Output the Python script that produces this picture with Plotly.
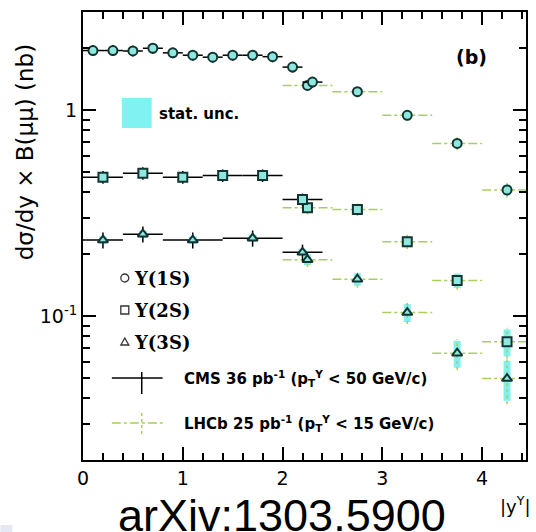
import math
import plotly.graph_objects as go

# ---------------- data ----------------
cms_1s_x = [0.1, 0.3, 0.5, 0.7, 0.9, 1.1, 1.3, 1.5, 1.7, 1.9, 2.1, 2.3]
cms_1s_hw = [0.1] * 12
cms_1s_y = [1.95, 1.95, 1.94, 2.00, 1.90, 1.85, 1.81, 1.85, 1.85, 1.82, 1.62, 1.37]
cms_1s_stat = [0.02] * 12
cms_1s_tot = [0.06] * 12

cms_2s_x = [0.2, 0.6, 1.0, 1.4, 1.8, 2.2]
cms_2s_hw = [0.2, 0.2, 0.2, 0.2, 0.2, 0.2]
cms_2s_y = [0.473, 0.494, 0.473, 0.482, 0.482, 0.368]
cms_2s_stat = [0.03] * 6
cms_2s_tot = [0.07] * 6

cms_3s_x = [0.2, 0.6, 1.1, 1.7, 2.2]
cms_3s_hw = [0.2, 0.2, 0.3, 0.3, 0.2]
cms_3s_y = [0.234, 0.250, 0.234, 0.239, 0.204]
cms_3s_stat = [0.04] * 5
cms_3s_tot = [0.09] * 5

lhcb_x = [2.25, 2.75, 3.25, 3.75, 4.25]
lhcb_hw = [0.25] * 5
lhcb_1s_y = [1.32, 1.23, 0.945, 0.69, 0.41]
lhcb_2s_y = [0.336, 0.329, 0.230, 0.149, 0.075]
lhcb_3s_y = [0.188, 0.151, 0.104, 0.066, 0.0497]
lhcb_1s_stat = [0.02, 0.02, 0.03, 0.04, 0.06]
lhcb_2s_stat = [0.04, 0.05, 0.06, 0.08, 0.15]
lhcb_3s_stat = [0.06, 0.07, 0.10, 0.15, 0.22]
lhcb_1s_tot = [0.06, 0.06, 0.06, 0.07, 0.08]
lhcb_2s_tot = [0.07, 0.07, 0.08, 0.10, 0.17]
lhcb_3s_tot = [0.08, 0.09, 0.12, 0.17, 0.25]

legend_labels = ["Υ(1S)", "Υ(2S)", "Υ(3S)"]
cms_label = "CMS 36 pb<sup>-1</sup> (p<sub>T</sub><sup>Υ</sup> < 50 GeV/c)"
lhcb_label = "LHCb 25 pb<sup>-1</sup> (p<sub>T</sub><sup>Υ</sup> < 15 GeV/c)"

# ---------------- style ----------------
CYAN = "rgba(90,235,235,0.75)"
OUTLINE = "#133532"
FILL = "#8fe8e0"
GREEN = "#a9cf5a"

fig = go.Figure()


def absv(vals, rel):
    return [v * r for v, r in zip(vals, rel)]


def add_cms(x, hw, y, stat, tot, symbol):
    fig.add_trace(go.Scatter(
        x=x, y=y, mode="markers", marker=dict(size=1, opacity=0),
        error_y=dict(type="data", array=absv(y, stat), width=0, thickness=8, color=CYAN),
        showlegend=False, hoverinfo="skip"))
    fig.add_trace(go.Scatter(
        x=x, y=y, mode="markers",
        marker=dict(symbol=symbol, size=9, color=FILL, line=dict(color=OUTLINE, width=2)),
        error_y=dict(type="data", array=absv(y, tot), width=0, thickness=1.5, color="black"),
        error_x=dict(type="data", array=hw, width=0, thickness=1.5, color="black"),
        showlegend=False))


def add_lhcb(x, hw, y, stat, tot, symbol):
    hx, hy, vx, vy = [], [], [], []
    for c, h, v, t in zip(x, hw, y, tot):
        hx += [c - h, c + h, None]
        hy += [v, v, None]
        vx += [c, c, None]
        vy += [v * (1 - t), v * (1 + t), None]
    fig.add_trace(go.Scatter(
        x=x, y=y, mode="markers", marker=dict(size=1, opacity=0),
        error_y=dict(type="data", array=absv(y, stat), width=0, thickness=7, color=CYAN),
        showlegend=False, hoverinfo="skip"))
    fig.add_trace(go.Scatter(x=hx, y=hy, mode="lines",
                             line=dict(color=GREEN, width=1.5, dash="dashdot"),
                             showlegend=False, hoverinfo="skip"))
    fig.add_trace(go.Scatter(x=vx, y=vy, mode="lines",
                             line=dict(color=GREEN, width=1.5, dash="dot"),
                             showlegend=False, hoverinfo="skip"))
    fig.add_trace(go.Scatter(
        x=x, y=y, mode="markers",
        marker=dict(symbol=symbol, size=9, color=FILL, line=dict(color=OUTLINE, width=2)),
        showlegend=False))


add_lhcb(lhcb_x, lhcb_hw, lhcb_1s_y, lhcb_1s_stat, lhcb_1s_tot, "circle")
add_lhcb(lhcb_x, lhcb_hw, lhcb_2s_y, lhcb_2s_stat, lhcb_2s_tot, "square")
add_lhcb(lhcb_x, lhcb_hw, lhcb_3s_y, lhcb_3s_stat, lhcb_3s_tot, "triangle-up")
add_cms(cms_1s_x, cms_1s_hw, cms_1s_y, cms_1s_stat, cms_1s_tot, "circle")
add_cms(cms_2s_x, cms_2s_hw, cms_2s_y, cms_2s_stat, cms_2s_tot, "square")
add_cms(cms_3s_x, cms_3s_hw, cms_3s_y, cms_3s_stat, cms_3s_tot, "triangle-up")

# ---------------- layout ----------------
L, R, T, B = 83, 8, 12, 72
W, H = 536, 532
PW, PH = W - L - R, H - T - B


def px(xp):
    return (xp - L) / PW


def py(yp):
    return (T + PH - yp) / PH


axis_common = dict(showline=True, linecolor="black", linewidth=2, mirror="ticks",
                   ticks="inside", ticklen=13, tickwidth=1.5, tickcolor="black",
                   showgrid=False, zeroline=False,
                   tickfont=dict(family="DejaVu Sans", size=19, color="black"))

minor_y = [0.02, 0.03, 0.04, 0.05, 0.06, 0.07, 0.08, 0.09,
           0.2, 0.3, 0.4, 0.5, 0.6, 0.7, 0.8, 0.9, 2, 3]

fig.update_layout(
    width=W, height=H, margin=dict(l=L, r=R, t=T, b=B),
    paper_bgcolor="white", plot_bgcolor="white", showlegend=False,
    xaxis=dict(range=[0, 4.44], tickvals=[0, 1, 2, 3, 4],
               minor=dict(ticks="inside", ticklen=7, tickwidth=1.5, tickcolor="black", dtick=0.2),
               **axis_common),
    yaxis=dict(type="log", range=[math.log10(0.02), math.log10(3)],
               tickvals=[0.1, 1], ticktext=["10<sup>-1</sup>", "1"],
               minor=dict(ticks="inside", ticklen=7, tickwidth=1.5, tickcolor="black",
                          tickmode="array", tickvals=minor_y),
               **axis_common),
)


def note(xp, yp, text, size, family="DejaVu Sans", xanchor="center", angle=0):
    return dict(x=px(xp), y=py(yp), xref="paper", yref="paper", xanchor=xanchor,
                yanchor="middle", textangle=angle, text=text, showarrow=False,
                font=dict(family=family, size=size, color="black"))


ann = []
ann.append(note(25, 152, "dσ/dy × B(μμ) (nb)", 23, angle=-90))
ann.append(note(517, 505, "|y<sup>Υ</sup>|", 18))
ann.append(note(473, 57, "<b>(b)</b>", 19))
ann.append(note(157, 114, "<b>stat. unc.</b>", 15, xanchor="left"))
for lab, yy in zip(legend_labels, [278, 310, 342]):
    ann.append(note(132, yy, "<b>" + lab + "</b>", 18, family="DejaVu Serif", xanchor="left"))
ann.append(note(182, 378, "<b>" + cms_label + "</b>", 15, xanchor="left"))
ann.append(note(182, 423, "<b>" + lhcb_label + "</b>", 15, xanchor="left"))
ann.append(note(283, 515, "arXiv:1303.5900", 45, family="Liberation Sans"))
fig.update_layout(annotations=ann)

shapes = []
shapes.append(dict(type="rect", xref="paper", yref="paper", x0=px(122), x1=px(152),
                   y0=py(128), y1=py(98), fillcolor="#80f2f2", line=dict(width=0)))
s = 4
shapes.append(dict(type="circle", xref="paper", yref="paper", x0=px(125 - s), x1=px(125 + s),
                   y0=py(278 + s), y1=py(278 - s), line=dict(color="#333", width=1.3)))
shapes.append(dict(type="rect", xref="paper", yref="paper", x0=px(125 - s), x1=px(125 + s),
                   y0=py(310 + s), y1=py(310 - s), line=dict(color="#333", width=1.3)))
tx0, tx1, tx2 = px(121), px(129), px(125)
ty0, ty1 = py(345), py(338)
shapes.append(dict(type="path", xref="paper", yref="paper",
                   path=f"M {tx0} {ty0} L {tx1} {ty0} L {tx2} {ty1} Z",
                   line=dict(color="#333", width=1.3)))
shapes.append(dict(type="line", xref="paper", yref="paper", x0=px(112), x1=px(163),
                   y0=py(378), y1=py(378), line=dict(color="black", width=1.5)))
shapes.append(dict(type="line", xref="paper", yref="paper", x0=px(142), x1=px(142),
                   y0=py(394), y1=py(372), line=dict(color="black", width=1.5)))
shapes.append(dict(type="line", xref="paper", yref="paper", x0=px(112), x1=px(165),
                   y0=py(423), y1=py(423), line=dict(color=GREEN, width=1.5, dash="dashdot")))
shapes.append(dict(type="line", xref="paper", yref="paper", x0=px(142), x1=px(142),
                   y0=py(434), y1=py(412), line=dict(color=GREEN, width=1.5, dash="dot")))
shapes.append(dict(type="rect", xref="paper", yref="paper", x0=px(0), x1=px(12),
                   y0=py(532), y1=py(525), fillcolor="#e6e8f4", line=dict(width=0)))
fig.update_layout(shapes=shapes)

fig.write_html("out.html")
